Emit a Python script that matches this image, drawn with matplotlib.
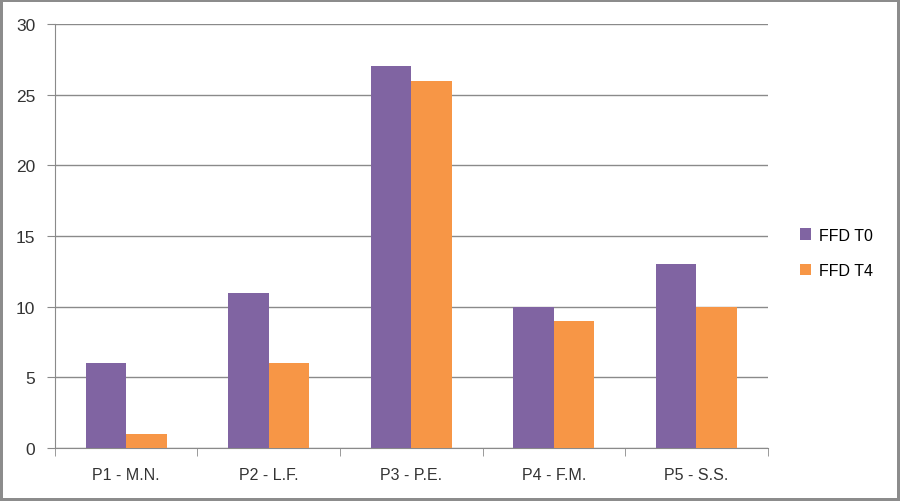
import numpy as np
import matplotlib
matplotlib.use("Agg")
import matplotlib.pyplot as plt

categories = ["P1 - M.N.", "P2 - L.F.", "P3 - P.E.", "P4 - F.M.", "P5 - S.S."]
ffd_t0 = [6, 11, 27, 10, 13]
ffd_t4 = [1, 6, 26, 9, 10]
series_names = ["FFD T0", "FFD T4"]
y_ticks = [0, 5, 10, 15, 20, 25, 30]

plt.rcParams['font.family'] = ['Liberation Sans', 'DejaVu Sans']

fig = plt.figure(figsize=(9, 5.02), dpi=100)
fig.patch.set_edgecolor('#8c8c8c')
fig.patch.set_linewidth(3)
ax = fig.add_axes([0.061, 0.1056, 0.792, 0.8445])

x = np.arange(len(categories))
w = 0.285
ax.bar(x - w / 2, ffd_t0, w, color='#8064A2', label=series_names[0], zorder=3)
ax.bar(x + w / 2, ffd_t4, w, color='#F79646', label=series_names[1], zorder=3)

ax.set_xlim(-0.5, len(categories) - 0.5)
ax.set_ylim(0, 30)
ax.set_yticks(y_ticks)
ax.yaxis.grid(True, color='#8a8a8a', lw=1, zorder=0)
ax.set_xticks(x)
ax.set_xticklabels(categories)
ax.set_xticks(np.arange(len(categories) + 1) - 0.5, minor=True)
ax.tick_params(axis='x', which='major', length=0, pad=14, labelsize=11.5, colors='#333333')
ax.tick_params(axis='x', which='minor', length=6, direction='out', color='#8a8a8a')
ax.tick_params(axis='y', length=6, direction='out', labelsize=12.5, pad=8,
               colors='#8a8a8a', labelcolor='#333333')
for s in ['top', 'right']:
    ax.spines[s].set_visible(False)
for s in ['left', 'bottom']:
    ax.spines[s].set_color('#8a8a8a')

ax.legend(loc='center left', bbox_to_anchor=(1.025, 0.46), frameon=False,
          handlelength=0.7, handleheight=0.7, labelspacing=1.3, fontsize=11.5,
          handletextpad=0.5)

fig.savefig("out.png", dpi=100)
